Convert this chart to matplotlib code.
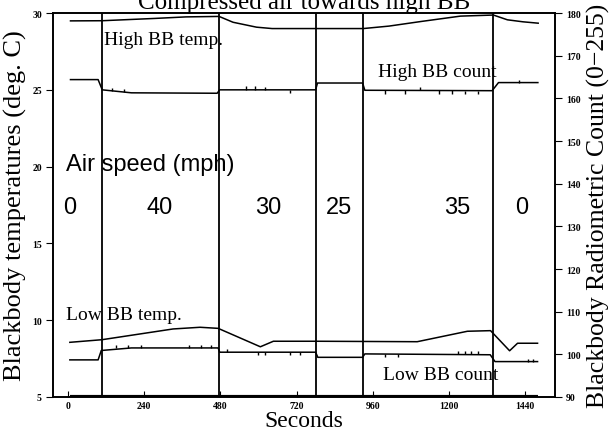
import matplotlib
matplotlib.use("Agg")
import matplotlib.pyplot as plt

# time (s) vs high blackbody temperature (deg C)
high_temp_t = [8, 107, 274, 372, 476, 520, 594, 643, 930, 1011, 1112, 1236, 1340, 1384, 1433, 1481]
high_temp = [29.49, 29.5, 29.65, 29.75, 29.78, 29.4, 29.08, 28.99, 28.99, 29.15, 29.45, 29.8, 29.87, 29.56, 29.43, 29.34]

# high blackbody radiometric count
high_count_t = [8, 95, 108, 200, 470, 478, 780, 786, 928, 935, 1336, 1356, 1480]
high_count = [164.4, 164.4, 162.0, 161.3, 161.2, 162.0, 162.0, 163.6, 163.6, 161.9, 161.8, 163.7, 163.7]

# short noise spikes on the high count trace: time, base, tip
high_spike_t = [140, 175, 560, 590, 620, 700, 1000, 1060, 1110, 1170, 1210, 1250, 1290, 1420]
high_spike_base = [161.8, 161.6, 162.0, 162.0, 162.0, 162.0, 161.9, 161.9, 161.9, 161.9, 161.9, 161.8, 161.8, 163.7]
high_spike_tip = [162.5, 162.3, 162.8, 162.8, 162.7, 161.3, 161.1, 161.1, 162.6, 161.1, 161.1, 161.0, 161.1, 164.4]

# low blackbody temperature (deg C)
low_temp_t = [6, 107, 331, 416, 473, 606, 647, 785, 1100, 1258, 1331, 1391, 1416, 1479]
low_temp = [8.56, 8.73, 9.43, 9.54, 9.47, 8.27, 8.63, 8.63, 8.6, 9.28, 9.32, 8.01, 8.5, 8.5]

# low blackbody radiometric count
low_count_t = [6, 95, 105, 200, 473, 478, 780, 787, 928, 935, 1330, 1345, 1479]
low_count = [98.7, 98.7, 100.9, 101.5, 101.5, 100.5, 100.5, 99.3, 99.3, 100.1, 99.9, 98.3, 98.3]

# short noise spikes on the low count trace: time, base, tip
low_spike_t = [150, 190, 230, 380, 420, 450, 500, 600, 620, 700, 730, 1000, 1040, 1230, 1250, 1270, 1290, 1450, 1465]
low_spike_base = [101.5, 101.5, 101.5, 101.5, 101.5, 101.5, 100.5, 100.5, 100.5, 100.5, 100.5, 100.1, 100.1, 100.0, 100.0, 100.0, 100.0, 98.3, 98.3]
low_spike_tip = [102.2, 102.2, 102.1, 102.2, 102.2, 102.2, 101.2, 99.8, 99.8, 99.8, 99.8, 99.4, 99.4, 100.7, 100.7, 100.7, 100.7, 99.0, 99.0]

# air speed changes
change_t = [107, 476, 781, 929, 1339]
speeds = ["0", "40", "30", "25", "35", "0"]
speed_t = [5, 290, 630, 855, 1225, 1430]

xticks = [0, 240, 480, 720, 960, 1200, 1440]
left_ticks = [5, 10, 15, 20, 25, 30]
right_ticks = [90, 100, 110, 120, 130, 140, 150, 160, 170, 180]

serif = "Liberation Serif"
sans = "Liberation Sans"

fig = plt.figure(figsize=(6.13, 4.39), dpi=100)
ax = fig.add_axes([0.0865, 0.0934, 0.8189, 0.8746])
ax2 = ax.twinx()

ax.plot(high_temp_t, high_temp, color="black", lw=1.1)
ax.plot(low_temp_t, low_temp, color="black", lw=1.1)
ax2.plot(high_count_t, high_count, color="black", lw=1.1)
ax2.plot(low_count_t, low_count, color="black", lw=1.1)
ax2.vlines(high_spike_t, high_spike_base, high_spike_tip, color="black", lw=1.0)
ax2.vlines(low_spike_t, low_spike_base, low_spike_tip, color="black", lw=1.0)
ax.plot([min(low_temp_t), max(high_temp_t)], [5, 5], color="black", lw=3, solid_capstyle="butt")

for t in change_t:
    ax.axvline(t, color="black", lw=1.3)

ax.set_xlim(-47, 1534)
ax.set_ylim(5, 30)
ax2.set_ylim(90, 180)

ax.set_xticks(xticks)
ax.set_yticks(left_ticks)
ax2.set_yticks(right_ticks)
ax.tick_params(axis="x", direction="in", length=4, pad=3)
ax.tick_params(axis="y", direction="out", length=5, pad=3)
ax2.tick_params(axis="y", direction="out", length=5, pad=3)
for lbl in ax.get_xticklabels() + ax.get_yticklabels() + ax2.get_yticklabels():
    lbl.set_fontfamily(serif)
    lbl.set_fontweight("bold")
    lbl.set_fontsize(7)

for a in (ax, ax2):
    for s in a.spines.values():
        s.set_linewidth(1.2)

ax.set_title("Compressed air towards high BB", family=serif, fontsize=18, pad=2)
ax.set_xlabel("Seconds", family=serif, fontsize=17, labelpad=0)
ax.set_ylabel("Blackbody temperatures (deg. C)", family=serif, fontsize=19, labelpad=4)
ax2.set_ylabel("Blackbody Radiometric Count (0\u2212255)", family=serif, fontsize=18.5, labelpad=4)

ax.text(112, 28.3, "High BB temp.", family=serif, fontsize=14, va="center", ha="left")
ax2.text(978, 166.2, "High BB count", family=serif, fontsize=14, va="center", ha="left")
ax.text(-5, 10.4, "Low BB temp.", family=serif, fontsize=14, va="center", ha="left")
ax2.text(991, 95.2, "Low BB count", family=serif, fontsize=14, va="center", ha="left")

ax.text(-5, 20.2, "Air speed (mph)", family=sans, fontsize=17, va="center", ha="left")
for t, s in zip(speed_t, speeds):
    ax.text(t, 17.4, s, family=sans, fontsize=17, va="center", ha="center")

fig.savefig("out.png", dpi=100)
